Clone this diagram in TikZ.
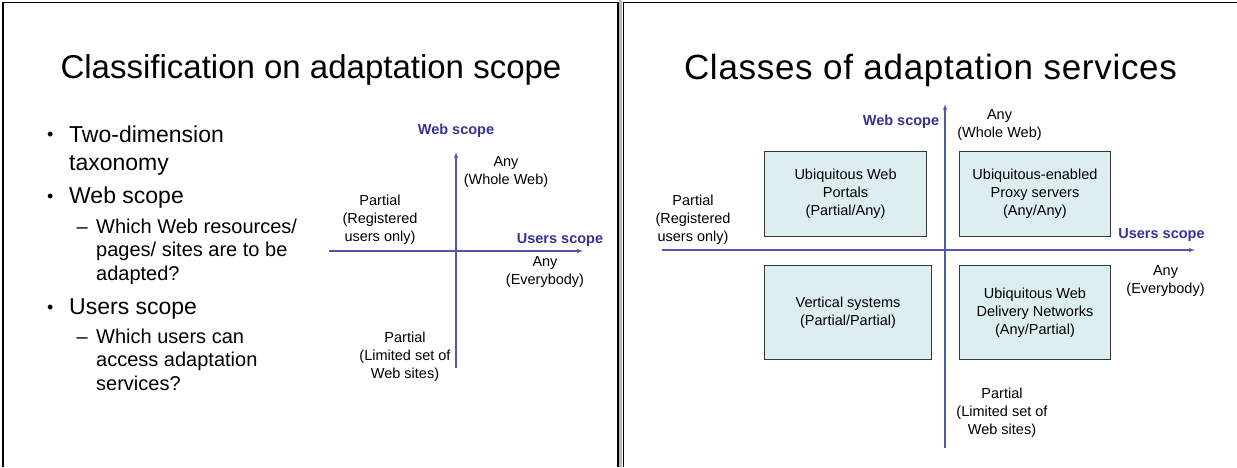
\documentclass[tikz,border=0pt]{standalone}
\usepackage{fontspec}
\setmainfont{Liberation Sans}
\usetikzlibrary{arrows}
\usetikzlibrary{positioning}
\definecolor{scopeblue}{RGB}{51,51,153}
\definecolor{axisblue}{RGB}{85,85,170}
\definecolor{servicefill}{RGB}{221,238,240}
\definecolor{serviceline}{RGB}{55,55,55}
\tikzstyle{every picture}=[>=latex']
\tikzstyle{every node}=[font=\fontsize{14.5}{18}\selectfont, inner sep=0pt]
\tikzstyle{frame}=[line width=1.4pt]
\tikzstyle{title}=[font=\fontsize{33}{40}\selectfont, anchor=base]
\tikzstyle{item}=[font=\fontsize{23}{28}\selectfont, anchor=base west, align=left]
\tikzstyle{subitem}=[font=\fontsize{20}{23.5}\selectfont, anchor=base west, align=left]
\tikzstyle{itemdot}=[font=\fontsize{18}{18}\selectfont]
\tikzstyle{itemdash}=[font=\fontsize{20}{20}\selectfont]
\tikzstyle{axis}=[draw=axisblue, line width=1.1pt, ->]
\tikzstyle{scope}=[text=scopeblue, font=\fontsize{14.5}{18}\selectfont\bfseries]
\tikzstyle{value}=[align=center]
\tikzstyle{service}=[draw=serviceline, fill=servicefill, line width=0.9pt, align=center]

\begin{document}
\begin{tikzpicture}[x=1pt, y=-1pt]
\useasboundingbox (0,0) rectangle (1237,467);

\fill[gray!55] (619.3,0) rectangle (621.7,467);
\draw[frame] (3,467) -- (3,2.2) -- (617.8,2.2) -- (617.8,467);
\draw[frame] (623.3,467) -- (623.3,2.2) -- (1237,2.2);

\node[title] (TitleL) at (311,78) {Classification on adaptation scope};
\node[title, font=\fontsize{35}{40}\selectfont\addfontfeature{LetterSpace=2}] (TitleR) at (930.5,79)
  {Classes of adaptation services};

\node[item] (TwoDimension) at (69,170) {Two-dimension\\taxonomy};
\node[item] (WebScopeItem) at (69,203) {Web scope};
\node[subitem] (WebQuestion) at (96,280) {Which Web resources/\\pages/ sites are to be\\adapted?};
\node[item] (UsersScopeItem) at (69,314) {Users scope};
\node[subitem] (UsersQuestion) at (96,390) {Which users can\\access adaptation\\services?};

\node[itemdot, left=15.3pt of TwoDimension.base west, anchor=base east, yshift=29.7pt] (DotA) {•};
\node[itemdot, left=15.3pt of WebScopeItem.base west, anchor=base east, yshift=1pt] (DotB) {•};
\node[itemdot, left=15.3pt of UsersScopeItem.base west, anchor=base east, yshift=1pt] (DotC) {•};
\node[itemdash, left=8pt of WebQuestion.base west, anchor=base east, yshift=47pt] (DashA) {–};
\node[itemdash, left=8pt of UsersQuestion.base west, anchor=base east, yshift=47pt] (DashB) {–};

\coordinate (CrossL) at (456,251);
\coordinate (UsersStartL) at (329,251);
\coordinate (UsersEndL) at (583,251);
\coordinate (WebStartL) at (456,368);
\coordinate (WebEndL) at (456,152);
\draw[axis] (UsersStartL) -- (UsersEndL);
\draw[axis] (WebStartL) -- (WebEndL);

\node[scope] (WebScopeL) at (456,131) {Web scope};
\node[scope] (UsersScopeL) at (560,240) {Users scope};
\node[value] (AnyWebL) at (506,172.5) {Any\\(Whole Web)};
\node[value] (PartialUsersL) at (380,219.5) {Partial\\(Registered\\users only)};
\node[value] (AnyUsersL) at (545,272.5) {Any\\(Everybody)};
\node[value] (PartialWebL) at (405,357) {Partial\\(Limited set of\\Web sites)};

\coordinate (CrossR) at (945,250);
\coordinate (UsersStartR) at (662,250);
\coordinate (UsersEndR) at (1195,250);
\coordinate (WebStartR) at (945,448);
\coordinate (WebEndR) at (945,104);
\draw[axis] (UsersStartR) -- (UsersEndR);
\draw[axis] (WebStartR) -- (WebEndR);

\node[service, minimum width=162pt, minimum height=85pt, above left=13pt and 18pt of CrossR] (WebPortals)
  {Ubiquitous Web\\Portals\\(Partial/Any)};
\node[service, minimum width=151pt, minimum height=85pt, above right=13pt and 14pt of CrossR] (ProxyServers)
  {Ubiquitous-enabled\\Proxy servers\\(Any/Any)};
\node[service, minimum width=167pt, minimum height=94pt, below left=15pt and 13pt of CrossR] (VerticalSystems)
  {Vertical systems\\(Partial/Partial)};
\node[service, minimum width=151pt, minimum height=94pt, below right=15pt and 14pt of CrossR] (DeliveryNetworks)
  {Ubiquitous Web\\Delivery Networks\\(Any/Partial)};

\node[scope] (WebScopeR) at (901,122) {Web scope};
\node[scope] (UsersScopeR) at (1161.5,235) {Users scope};
\node[value] (AnyWebR) at (999.5,125.5) {Any\\(Whole Web)};
\node[value] (PartialUsersR) at (693,219.5) {Partial\\(Registered\\users only)};
\node[value] (AnyUsersR) at (1165.5,281) {Any\\(Everybody)};
\node[value] (PartialWebR) at (1002,413) {Partial\\(Limited set of\\Web sites)};

\end{tikzpicture}
\end{document}
